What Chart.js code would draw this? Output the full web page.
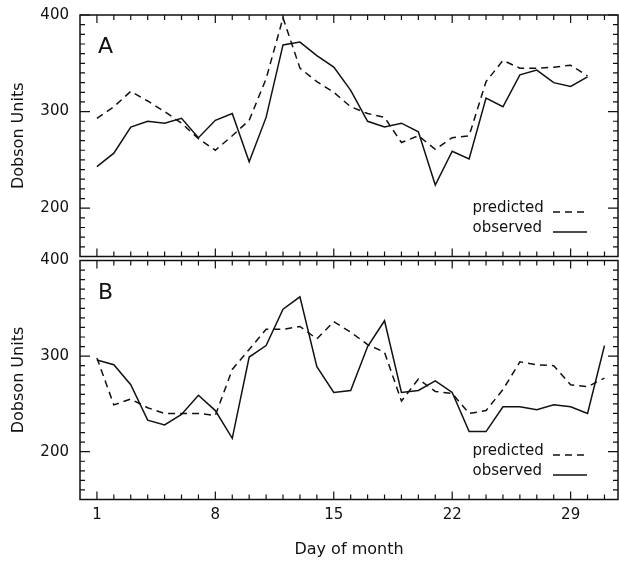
<!DOCTYPE html>
<html>
<head>
<meta charset="utf-8">
<title>Dobson Units</title>
<script src="https://cdn.jsdelivr.net/npm/chart.js@4.4.1/dist/chart.umd.min.js"></script>
<style>
  html, body { margin: 0; padding: 0; background: #fff; overflow: hidden; }
  .panel { position: absolute; left: 0; width: 619px; }
  #panelA { top: 0; height: 258px; }
  #panelB { top: 240px; height: 321px; }
</style>
</head>
<body>
<div class="panel" id="panelA"><canvas id="chartA"></canvas></div>
<div class="panel" id="panelB"><canvas id="chartB"></canvas></div>
<script>
"use strict";

// Panel A
const daysA = [1, 2, 3, 4, 5, 6, 7, 8, 9, 10, 11, 12, 13, 14, 15, 16, 17, 18, 19, 20, 21, 22, 23, 24, 25, 26, 27, 28, 29, 30];
const predictedA = [293, 305, 321, 311, 300, 288, 272, 260, 275, 291, 334, 397, 345, 331, 320, 305, 298, 294, 268, 275, 261, 273, 275, 331, 353, 345, 345, 346, 348, 337];
const observedA = [243, 257, 284, 290, 288, 293, 273, 291, 298, 248, 294, 369, 372, 358, 346, 322, 290, 284, 288, 279, 224, 259, 251, 314, 305, 338, 343, 330, 326, 336];

// Panel B
const daysB = [1, 2, 3, 4, 5, 6, 7, 8, 9, 10, 11, 12, 13, 14, 15, 16, 17, 18, 19, 20, 21, 22, 23, 24, 25, 26, 27, 28, 29, 30, 31];
const predictedB = [298, 249, 255, 246, 240, 240, 240, 238, 286, 307, 328, 328, 331, 318, 336, 325, 312, 304, 253, 276, 263, 261, 240, 243, 265, 294, 291, 290, 270, 268, 277];
const observedB = [296, 291, 270, 233, 228, 239, 259, 243, 214, 299, 311, 349, 362, 289, 262, 264, 310, 337, 262, 264, 274, 262, 221, 221, 247, 247, 244, 249, 247, 240, 311];

const yTickLabels = [200, 300, 400];
const xTickLabels = [1, 8, 15, 22, 29];

const INK = "#111";
Chart.defaults.font.family = "'DejaVu Sans', sans-serif";
Chart.defaults.color = INK;

function toPoints(days, values) {
  return days.map((d, i) => ({ x: d, y: values[i] }));
}

// box round the plot with small ticks pointing inwards on all four sides
const frameTicks = {
  id: "frameTicks",
  afterDatasetsDraw(chart) {
    const { ctx, chartArea: a, scales: { x, y } } = chart;
    ctx.save();
    ctx.strokeStyle = INK;
    ctx.lineWidth = 1.5;
    ctx.strokeRect(a.left, a.top, a.right - a.left, a.bottom - a.top);

    ctx.lineWidth = 1.2;
    ctx.beginPath();
    for (let v = 150; v <= 400; v += 10) {
      const py = y.getPixelForValue(v);
      const len = v % 100 === 0 ? 10 : 5;
      ctx.moveTo(a.left, py);
      ctx.lineTo(a.left + len, py);
      ctx.moveTo(a.right, py);
      ctx.lineTo(a.right - len, py);
    }
    for (let d = 1; d <= 31; d++) {
      const px = x.getPixelForValue(d);
      const len = xTickLabels.includes(d) ? 8 : 5;
      ctx.moveTo(px, a.bottom);
      ctx.lineTo(px, a.bottom - len);
      ctx.moveTo(px, a.top);
      ctx.lineTo(px, a.top + len);
    }
    ctx.stroke();
    ctx.restore();
  }
};

// panel letter and the little key in the lower right corner
const panelNotes = {
  id: "panelNotes",
  afterDatasetsDraw(chart, args, opts) {
    const { ctx, chartArea: a } = chart;
    ctx.save();
    ctx.fillStyle = INK;
    ctx.font = "22px 'DejaVu Sans'";
    ctx.textBaseline = "alphabetic";
    ctx.fillText(opts.letter, 98, a.top + 38);

    ctx.font = "15px 'DejaVu Sans'";
    ctx.textBaseline = "middle";
    const rows = [a.bottom - 48.5, a.bottom - 28.5];
    chart.data.datasets.forEach((ds, i) => {
      ctx.fillText(ds.label, 472.5, rows[i]);
      ctx.strokeStyle = INK;
      ctx.lineWidth = 1.5;
      ctx.setLineDash(ds.borderDash || []);
      ctx.beginPath();
      ctx.moveTo(553, rows[i] + 4);
      ctx.lineTo(587, rows[i] + 4);
      ctx.stroke();
    });
    ctx.restore();
  }
};

function makeChart(id, letter, days, predicted, observed, showX) {
  return new Chart(document.getElementById(id), {
    type: "line",
    data: {
      datasets: [
        {
          label: "predicted",
          data: toPoints(days, predicted),
          borderColor: INK,
          borderWidth: 1.5,
          borderDash: [7, 5],
          pointRadius: 0,
          tension: 0
        },
        {
          label: "observed",
          data: toPoints(days, observed),
          borderColor: INK,
          borderWidth: 1.5,
          pointRadius: 0,
          tension: 0
        }
      ]
    },
    options: {
      responsive: true,
      maintainAspectRatio: false,
      animation: false,
      layout: {
        padding: showX ? { top: 20.5, right: 1, bottom: 0, left: 0 } : { top: 15, right: 1, bottom: 1.5, left: 0 }
      },
      plugins: {
        legend: { display: false },
        tooltip: { enabled: false },
        panelNotes: { letter: letter }
      },
      scales: {
        x: {
          type: "linear",
          display: showX,
          min: 0,
          max: 31.8,
          afterBuildTicks: s => { s.ticks = xTickLabels.map(v => ({ value: v })); },
          afterFit: s => {
            s.height = showX ? 61.5 : 0;
            s.paddingLeft = s.paddingRight = 0;
          },
          grid: { display: false, drawTicks: false },
          border: { display: false },
          ticks: { padding: 7, font: { size: 15 }, maxRotation: 0 },
          title: {
            display: true,
            text: "Day of month",
            font: { size: 16 },
            padding: { top: 0, bottom: 1.4 }
          }
        },
        y: {
          min: 150,
          max: 400,
          afterBuildTicks: s => { s.ticks = yTickLabels.map(v => ({ value: v })); },
          afterFit: s => {
            s.width = 80;
            s.paddingTop = s.paddingBottom = 0;
          },
          grid: { display: false, drawTicks: false },
          border: { display: false },
          ticks: { padding: 11, font: { size: 15 } },
          title: {
            display: true,
            text: "Dobson Units",
            font: { size: 16 },
            padding: { top: 9, bottom: 0 }
          }
        }
      }
    },
    plugins: [frameTicks, panelNotes]
  });
}

makeChart("chartA", "A", daysA, predictedA, observedA, false);
makeChart("chartB", "B", daysB, predictedB, observedB, true);
</script>
</body>
</html>
